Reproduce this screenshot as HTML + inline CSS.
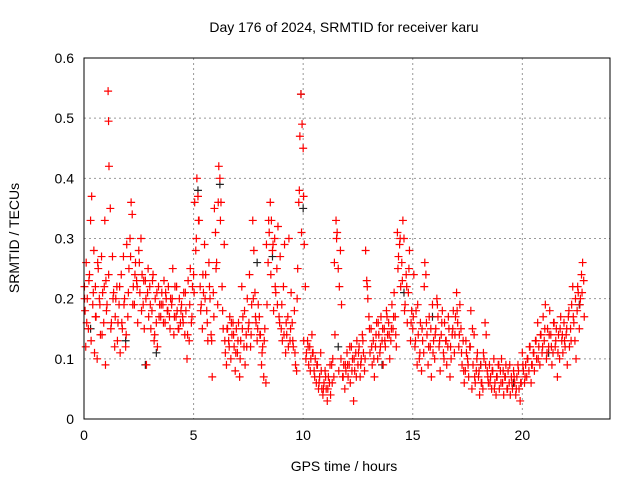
<!DOCTYPE html>
<html><head><meta charset="utf-8"><style>
body{margin:0;background:#fff}
svg{display:block;font-family:"Liberation Sans",sans-serif}
</style></head><body>
<svg id="chart" width="640" height="480" viewBox="0 0 640 480" xmlns="http://www.w3.org/2000/svg">
<rect width="640" height="480" fill="#fff"/>
<text x="344" y="32" font-size="14" text-anchor="middle">Day 176 of 2024, SRMTID for receiver karu</text>
<text x="344" y="471" font-size="14" text-anchor="middle">GPS time / hours</text>
<text transform="translate(19,238) rotate(-90)" font-size="14" text-anchor="middle">SRMTID / TECUs</text>
<g id="grid"></g><g id="ticks"></g><g id="marks"></g>
<rect x="84" y="58" width="526" height="361" fill="none" stroke="#000" stroke-width="1"/>
</svg>
<script>
const xTicks=[0,5,10,15,20];
const yTicks=[0,0.1,0.2,0.3,0.4,0.5,0.6];
const yTickLabels=["0","0.1","0.2","0.3","0.4","0.5","0.6"];
const redT=[0.02,.05,.08,.1,.15,.2,.25,.3,.35,.4,.45,.48,
.52,.55,.6,.65,.7,.75,.8,.85,.9,.95,.98,
1.0,1.05,1.1,1.12,1.14,1.2,1.25,1.3,1.35,1.4,1.45,
1.5,1.55,1.6,1.65,1.7,1.75,1.8,1.85,1.9,1.95,
2.0,2.05,2.1,2.15,2.2,2.25,2.3,2.35,2.4,2.45,
2.5,2.55,2.6,2.65,2.7,2.75,2.8,2.85,2.9,2.95,
3.0,3.05,3.1,3.15,3.2,3.25,3.3,3.35,3.4,3.45,
3.5,3.55,3.6,3.65,3.7,3.75,3.8,3.85,3.9,3.95,
4.0,4.05,4.1,4.15,4.2,4.25,4.3,4.35,4.4,4.45,
4.5,4.55,4.6,4.65,4.7,4.75,4.8,4.85,4.9,4.95,
5.0,5.05,5.1,5.15,5.2,5.25,5.3,5.35,5.4,5.45,
5.5,5.55,5.6,5.65,5.7,5.75,5.8,5.85,5.9,5.95,
6.0,6.05,6.1,6.15,6.2,6.25,6.3,6.35,6.4,6.45,
6.5,6.55,6.6,6.65,6.7,6.75,6.8,6.85,6.9,6.95,
7.0,7.05,7.1,7.15,7.2,7.25,7.3,7.35,7.4,7.45,
7.5,7.55,7.6,7.65,7.7,7.75,7.8,7.85,7.9,7.95,
8.0,8.05,8.1,8.15,8.2,8.25,8.3,8.35,8.4,8.45,
8.5,8.55,8.6,8.65,8.7,8.75,8.8,8.85,8.9,8.95,
9.0,9.05,9.1,9.15,9.2,9.25,9.3,9.35,9.4,9.45,
9.5,9.55,9.6,9.65,9.7,9.75,9.8,9.85,9.9,9.95,
10.0,10.02,10.05,10.1,10.15,10.2,10.25,10.3,10.35,10.4,10.45,
10.5,10.55,10.6,10.65,10.7,10.75,10.8,10.85,10.9,10.95,
11.0,11.05,11.1,11.15,11.2,11.25,11.3,11.35,11.4,11.45,
11.5,11.55,11.6,11.65,11.7,11.75,11.8,11.85,11.9,11.95,
12.0,12.05,12.1,12.15,12.2,12.25,12.3,12.35,12.4,12.45,
12.5,12.55,12.6,12.65,12.7,12.75,12.8,12.85,12.9,12.95,
13.0,13.05,13.1,13.15,13.2,13.25,13.3,13.35,13.4,13.45,
13.5,13.55,13.6,13.65,13.7,13.75,13.8,13.85,13.9,13.95,
14.0,14.05,14.1,14.15,14.2,14.25,14.3,14.35,14.4,14.45,
14.5,14.55,14.6,14.65,14.7,14.75,14.8,14.85,14.9,14.95,
15.0,15.05,15.1,15.15,15.2,15.25,15.3,15.35,15.4,15.45,
15.5,15.55,15.6,15.65,15.7,15.75,15.8,15.85,15.9,15.95,
16.0,16.05,16.1,16.15,16.2,16.25,16.3,16.35,16.4,16.45,
16.5,16.55,16.6,16.65,16.7,16.75,16.8,16.85,16.9,16.95,
17.0,17.05,17.1,17.15,17.2,17.25,17.3,17.35,17.4,17.45,
17.5,17.55,17.6,17.65,17.7,17.75,17.8,17.85,17.9,17.95,
18.0,18.05,18.1,18.15,18.2,18.25,18.3,18.35,18.4,18.45,
18.5,18.55,18.6,18.65,18.7,18.75,18.8,18.85,18.9,18.95,
19.0,19.05,19.1,19.15,19.2,19.25,19.3,19.35,19.4,19.45,
19.5,19.55,19.6,19.65,19.7,19.75,19.8,19.85,19.9,19.95,
20.0,20.05,20.1,20.15,20.2,20.25,20.3,20.35,20.4,20.45,
20.5,20.55,20.6,20.65,20.7,20.75,20.8,20.85,20.9,20.95,
21.0,21.05,21.1,21.15,21.2,21.25,21.3,21.35,21.4,21.45,
21.5,21.55,21.6,21.65,21.7,21.75,21.8,21.85,21.9,21.95,
22.0,22.05,22.1,22.15,22.2,22.25,22.3,22.35,22.4,22.45,
22.5,22.55,22.6,22.65,22.7,22.75,22.8];
const redV=[.22,.18,.12,.26,.2,.15,.24,.33,.37,.19,.28,.11,
.22,.17,.10,.25,.2,.14,.27,.21,.16,.33,.09,
.23,.19,.545,.495,.42,.35,.16,.27,.21,.12,.2,
.22,.16,.19,.11,.24,.15,.27,.20,.12,.29,
.17,.25,.30,.36,.34,.22,.19,.26,.23,.16,
.28,.21,.30,.24,.19,.15,.23,.09,.21,.17,
.22,.15,.18,.24,.13,.20,.16,.12,.22,.19,
.17,.21,.19,.23,.16,.20,.18,.22,.17,.20,
.19,.25,.14,.22,.17,.18,.15,.20,.16,.19,
.17,.21,.14,.18,.10,.23,.13,.25,.16,.22,
.24,.36,.28,.40,.37,.33,.22,.19,.15,.21,
.29,.24,.18,.13,.26,.20,.14,.07,.21,.35,
.31,.26,.19,.42,.40,.36,.22,.15,.29,.11,
.09,.15,.13,.17,.10,.14,.16,.12,.08,.15,
.11,.16,.07,.13,.22,.17,.12,.09,.14,.20,
.15,.24,.12,.19,.33,.28,.21,.16,.13,.19,
.17,.14,.09,.12,.07,.15,.06,.19,.26,.31,
.36,.33,.28,.18,.30,.21,.25,.32,.17,.27,
.15,.13,.22,.29,.11,.14,.17,.30,.13,.21,
.16,.12,.18,.09,.08,.25,.36,.47,.54,.49,
.45,.37,.29,.22,.11,.13,.09,.12,.10,.14,.11,
.08,.10,.06,.09,.05,.07,.11,.05,.04,.06,
.08,.05,.03,.07,.06,.04,.09,.10,.07,.14,
.33,.31,.25,.22,.28,.19,.07,.09,.05,.08,
.11,.07,.09,.06,.12,.10,.03,.08,.11,.13,
.09,.12,.07,.10,.14,.11,.08,.28,.23,.20,
.17,.11,.15,.09,.13,.07,.12,.16,.10,.14,
.11,.17,.13,.09,.15,.12,.18,.14,.16,.10,
.13,.19,.15,.21,.17,.12,.31,.27,.29,.22,
.26,.33,.30,.19,.24,.16,.21,.28,.13,.18,
.15,.24,.12,.18,.09,.14,.10,.16,.08,.13,
.11,.26,.24,.14,.09,.17,.12,.07,.19,.13,
.10,.15,.20,.17,.12,.08,.14,.18,.11,.16,
.13,.09,.12,.15,.07,.10,.14,.18,.11,.17,
.21,.16,.12,.19,.15,.09,.13,.06,.08,.11,
.10,.07,.12,.18,.05,.09,.14,.06,.08,.11,
.07,.04,.09,.06,.05,.10,.16,.14,.08,.06,
.09,.07,.05,.08,.10,.06,.04,.07,.09,.05,
.08,.10,.06,.04,.07,.09,.05,.08,.06,.04,
.07,.05,.08,.06,.04,.07,.09,.05,.03,.06,
.11,.08,.06,.09,.07,.10,.08,.12,.06,.09,
.11,.08,.13,.10,.16,.12,.09,.14,.11,.17,
.13,.19,.10,.15,.12,.18,.14,.09,.11,.16,
.12,.15,.07,.14,.10,.17,.13,.11,.16,.12,
.14,.09,.17,.12,.15,.19,.22,.16,.13,.10,
.18,.21,.15,.20,.24,.26,.23];
const redT2=[0.025,0.125,0.225,0.325,0.425,0.525,0.625,0.725,0.825,0.925,
1.025,1.125,1.225,1.325,1.425,1.525,1.625,1.725,1.825,1.925,
2.025,2.125,2.225,2.325,2.425,2.525,2.625,2.725,2.825,2.925,
3.025,3.125,3.225,3.325,3.425,3.525,3.625,3.725,3.825,3.925,
4.025,4.125,4.225,4.325,4.425,4.525,4.625,4.725,4.825,4.925,
5.025,5.125,5.225,5.325,5.425,5.525,5.625,5.725,5.825,5.925,
6.025,6.125,6.225,6.325,6.425,6.525,6.625,6.725,6.825,6.925,
7.025,7.125,7.225,7.325,7.425,7.525,7.625,7.725,7.825,7.925,
8.025,8.125,8.225,8.325,8.425,8.525,8.625,8.725,8.825,8.925,
9.025,9.125,9.225,9.325,9.425,9.525,9.625,9.725,9.825,9.925,
10.025,10.125,10.225,10.325,10.425,10.525,10.625,10.725,10.825,10.925,
11.025,11.125,11.225,11.325,11.425,11.525,11.625,11.725,11.825,11.925,
12.025,12.125,12.225,12.325,12.425,12.525,12.625,12.725,12.825,12.925,
13.025,13.125,13.225,13.325,13.425,13.525,13.625,13.725,13.825,13.925,
14.025,14.125,14.225,14.325,14.425,14.525,14.625,14.725,14.825,14.925,
15.025,15.125,15.225,15.325,15.425,15.525,15.625,15.725,15.825,15.925,
16.025,16.125,16.225,16.325,16.425,16.525,16.625,16.725,16.825,16.925,
17.025,17.125,17.225,17.325,17.425,17.525,17.625,17.725,17.825,17.925,
18.025,18.125,18.225,18.325,18.425,18.525,18.625,18.725,18.825,18.925,
19.025,19.125,19.225,19.325,19.425,19.525,19.625,19.725,19.825,19.925,
20.025,20.125,20.225,20.325,20.425,20.525,20.625,20.725,20.825,20.925,
21.025,21.125,21.225,21.325,21.425,21.525,21.625,21.725,21.825,21.925,
22.025,22.125,22.225,22.325,22.425,22.525,22.625,22.725,22.825];
const redV2=[.20,.16,.23,.13,.21,.17,.26,.19,.14,.22,
.18,.24,.15,.20,.17,.13,.22,.16,.19,.14,
.21,.27,.19,.24,.22,.26,.18,.23,.20,.25,
.19,.23,.14,.21,.17,.19,.16,.21,.18,.15,
.20,.17,.22,.15,.18,.16,.21,.14,.19,.17,
.21,.30,.33,.18,.24,.20,.16,.22,.13,.17,
.25,.36,.33,.18,.13,.15,.12,.16,.14,.11,
.13,.10,.15,.18,.12,.16,.14,.20,.17,.15,
.14,.11,.13,.29,.33,.24,.29,.22,.19,.16,
.19,.14,.16,.12,.15,.13,.11,.20,.38,.31,
.13,.10,.12,.08,.11,.07,.09,.06,.08,.05,
.07,.05,.09,.06,.26,.30,.08,.10,.07,.09,
.09,.12,.08,.10,.07,.11,.09,.13,.10,.22,
.15,.12,.10,.14,.16,.12,.15,.13,.17,.14,
.15,.17,.14,.25,.30,.23,.18,.22,.25,.16,
.17,.13,.19,.11,.15,.22,.16,.12,.15,.11,
.14,.19,.13,.16,.10,.13,.17,.12,.15,.14,
.18,.14,.11,.08,.13,.09,.12,.15,.07,.10,
.08,.06,.11,.09,.07,.06,.08,.05,.07,.09,
.06,.08,.07,.05,.09,.06,.07,.05,.08,.06,
.09,.07,.10,.12,.09,.11,.13,.10,.14,.12,
.15,.11,.14,.12,.16,.13,.11,.15,.14,.13,
.15,.18,.13,.17,.20,.22,.19,.21,.17];
const blackT=[0.3,1.9,2.8,3.3,5.2,6.2,7.9,8.6,9.9,10.0,11.6,13.6,14.6,15.9,18.1,19.6,21.2,22.6];
const blackV=[.15,.13,.09,.11,.38,.39,.26,.27,.54,.35,.12,.09,.21,.17,.09,.06,.11,.19];
const X0=84,X1=610,Y0=419,Y1=58,XMAX=24,YMAX=0.6;
const sx=t=>X0+t/XMAX*(X1-X0);
const sy=v=>Y0-v/YMAX*(Y0-Y1);
const NS="http://www.w3.org/2000/svg";
const grid=document.getElementById('grid'),ticks=document.getElementById('ticks'),marks=document.getElementById('marks');
function mk(tag,attrs,parent){const e=document.createElementNS(NS,tag);for(const k in attrs)e.setAttribute(k,attrs[k]);parent.appendChild(e);return e;}
xTicks.forEach(t=>{const x=sx(t);
 if(t>0){const g=mk('line',{x1:x,x2:x,y1:Y1,y2:Y0,stroke:'#999','stroke-dasharray':'2,3'},grid);
 
 }
 const l=mk('text',{x:x,y:Y0+21,'font-size':14,'text-anchor':'middle'},ticks);l.textContent=t;
 
 
});
yTicks.forEach((v,i)=>{const y=sy(v);
 if(v>0&&v<YMAX){const g=mk('line',{x1:X0,x2:X1,y1:y,y2:y,stroke:'#999','stroke-dasharray':'2,3'},grid);
 
 }
 const l=mk('text',{x:X0-10,y:y+5,'font-size':14,'text-anchor':'end'},ticks);l.textContent=yTickLabels[i];
 
 
});
function plus(t,v,color,name){const x=sx(t),y=sy(v);
 const p=mk('path',{d:`M${x-4},${y}H${x+4}M${x},${y-4}V${y+4}`,stroke:color,'stroke-width':1.2,fill:'none'},marks);
 
 }
blackT.forEach((t,i)=>plus(t,blackV[i],'#222','black-point'));
redT.forEach((t,i)=>plus(t,redV[i],'#ff0000','red-point'));
redT2.forEach((t,i)=>plus(t,redV2[i],'#ff0000','red-point'));
</script>
</body></html>
